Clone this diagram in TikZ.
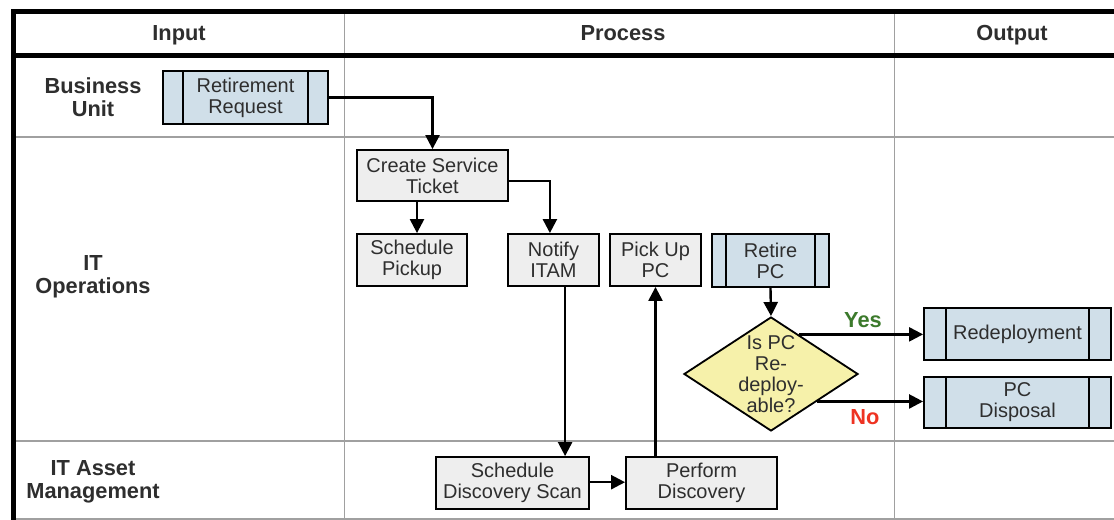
\documentclass[tikz,border=0pt]{standalone}
\usepackage{fontspec}
\setmainfont{Liberation Sans}
\usetikzlibrary{shapes.geometric,arrows.meta,calc}

\definecolor{boxgray}{HTML}{EEEEEE}
\definecolor{boxblue}{HTML}{D0DFE9}
\definecolor{decyellow}{HTML}{F6F1AA}
\definecolor{gridgray}{HTML}{A0A0A0}
\definecolor{txt}{HTML}{2E2E2E}
\definecolor{yesgreen}{HTML}{3C7A2C}
\definecolor{nored}{HTML}{EE3322}

\tikzset{
  boxtext/.style={font=\fontsize{14.2}{15}\selectfont, text=txt, align=center},
  procbox/.style={boxtext, draw=black, line width=1.3pt, fill=boxgray, inner sep=0pt},
  subproc/.style={boxtext, draw=black, line width=1.3pt, fill=boxblue, inner sep=0pt},
  lanetext/.style={font=\bfseries\fontsize{15.5}{16.5}\selectfont, text=txt, align=center},
  decision/.style={diamond, draw=black, line width=1.3pt, fill=decyellow, inner sep=0pt},
  arr/.style={line width=1.7pt, -{Triangle[length=10pt,width=10pt]}},
  grid/.style={draw=gridgray, line width=1.2pt},
  frame/.style={draw=black, line width=3.6pt},
}

% vertical bars of a predefined-process box
\newcommand{\sidebars}[2]{%
  \draw[line width=1.3pt] ([xshift=#2]#1.north west) -- ([xshift=#2]#1.south west);
  \draw[line width=1.3pt] ([xshift=-#2]#1.north east) -- ([xshift=-#2]#1.south east);}

\begin{document}
\begin{tikzpicture}[x=0.025cm, y=-0.025cm]
\useasboundingbox (0,0) rectangle (1114,520);

% swimlane grid
\draw[grid] (344.5,14) -- (344.5,520);
\draw[grid] (894.5,14) -- (894.5,520);
\draw[grid] (16,137) -- (1114,137);
\draw[grid] (16,441) -- (1114,441);
\draw[grid] (16,519) -- (1114,519);
\draw[frame] (1114,11.5) -- (13.5,11.5) -- (13.5,520);
\draw[frame] (13.5,55.5) -- (1114,55.5);

% column headers
\node[lanetext, anchor=base] (hin)  at (179,40.5)  {Input};
\node[lanetext, anchor=base] (hpr)  at (623,40.5)  {Process};
\node[lanetext, anchor=base] (hout) at (1012,40.5) {Output};

% lane titles
\node[lanetext] (lbu)  at (93,97)  {Business\\Unit};
\node[lanetext] (lit)  at (93,277) {IT\\Operations};
\node[lanetext] (lam)  at (93,482) {IT Asset\\Management};

% steps
\node[subproc, minimum width=4.125cm, minimum height=1.325cm] (rr) at (245.5,97.5) {Retirement\\Request};
\sidebars{rr}{0.52cm}
\node[procbox, minimum width=3.775cm, minimum height=1.275cm] (cst) at (432.5,175.5) {Create Service\\Ticket};
\node[procbox, minimum width=2.75cm, minimum height=1.3cm] (sp) at (412,260) {Schedule\\Pickup};
\node[procbox, minimum width=2.275cm, minimum height=1.3cm] (ni) at (553.5,260) {Notify\\ITAM};
\node[procbox, minimum width=2.275cm, minimum height=1.3cm] (pu) at (655.5,260) {Pick Up\\PC};
\node[subproc, minimum width=2.925cm, minimum height=1.325cm] (rp) at (770.5,260.5) {Retire\\PC};
\sidebars{rp}{0.37cm}
\node[procbox, minimum width=3.825cm, minimum height=1.3cm] (sds) at (512.5,483) {Schedule\\Discovery Scan};
\node[procbox, minimum width=3.775cm, minimum height=1.3cm] (pd) at (701.5,483) {Perform\\Discovery};
\node[decision, minimum width=4.35cm, minimum height=2.85cm,
      label={[boxtext]center:Is PC\\Re-\\deploy-\\able?}] (dia) at (771,374) {};
\node[subproc, minimum width=4.675cm, minimum height=1.3cm] (red) at (1017.5,334) {Redeployment};
\sidebars{red}{0.57cm}
\node[subproc, minimum width=4.675cm, minimum height=1.275cm] (disp) at (1017.5,402.5) {PC\\Disposal};
\sidebars{disp}{0.57cm}

% flow
\draw[arr] (rr.east) -| (cst.north);
\draw[arr] ([xshift=0.125cm]sp.north |- cst.south) -- ([xshift=0.125cm]sp.north);
\draw[arr] ([yshift=-0.14cm]cst.east) -| ([xshift=-0.09cm]ni.north);
\draw[arr] ([xshift=0.29cm]ni.south) -- ([xshift=0.29cm]ni.south |- sds.north);
\draw[arr] ([yshift=0.02cm]sds.east) -- ([yshift=0.02cm]pd.west);
\draw[arr] (pd.north -| pu.south) -- (pu.south);
\draw[arr] (rp.south) -- (dia.north);

\coordinate (yesout) at ($(dia.north)!0.316!(dia.east)$);
\coordinate (noout)  at ($(dia.east)!0.474!(dia.south)$);
\draw[arr] (yesout) -- (yesout -| red.west);
\draw[arr] (noout) -- (noout -| disp.west);
\node[font=\bfseries\fontsize{15.5}{16}\selectfont, text=yesgreen] (yes) at (863,320) {Yes};
\node[font=\bfseries\fontsize{15.5}{16}\selectfont, text=nored] (no) at (865,417) {No};
\end{tikzpicture}
\end{document}
